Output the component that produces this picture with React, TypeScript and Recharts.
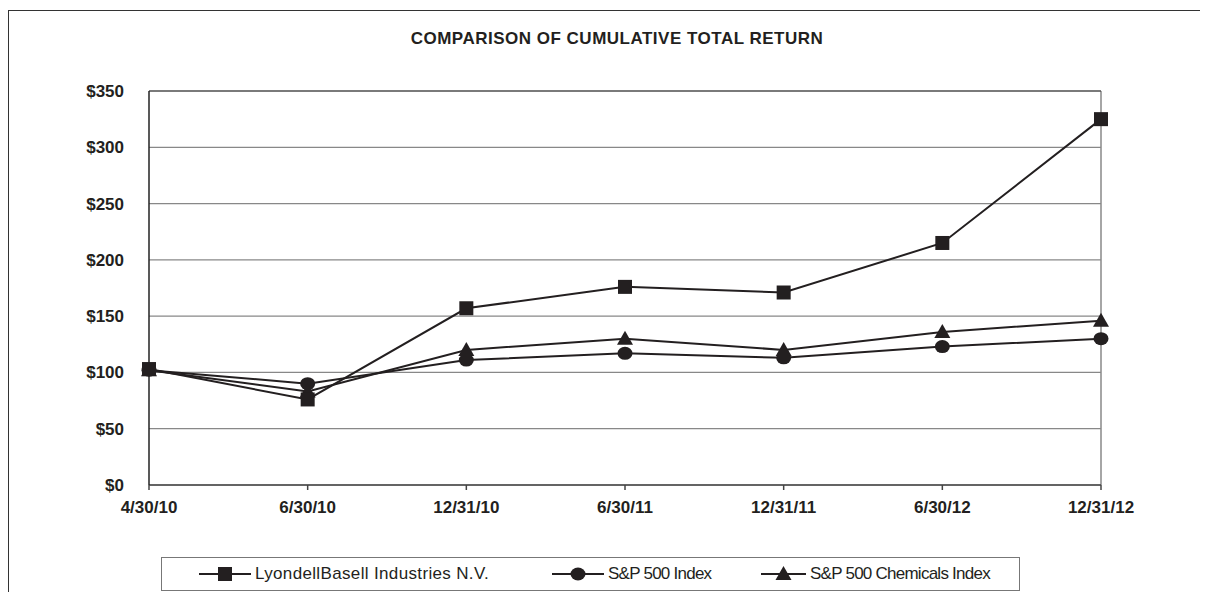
import React from "react";
import {
  LineChart,
  Line,
  XAxis,
  YAxis,
  CartesianGrid,
  Legend,
  ReferenceLine,
} from "recharts";

const dates = ["4/30/10", "6/30/10", "12/31/10", "6/30/11", "12/31/11", "6/30/12", "12/31/12"];
const lyondell = [103, 76, 157, 176, 171, 215, 325];
const sp500 = [102, 90, 111, 117, 113, 123, 130];
const chemicals = [102, 83, 120, 130, 120, 136, 146];
const yTicks = [0, 50, 100, 150, 200, 250, 300, 350];

const data = dates.map((d, i) => ({
  date: d,
  lyondell: lyondell[i],
  sp500: sp500[i],
  chemicals: chemicals[i],
}));

const INK = "#231f20";
const FONT = "'Liberation Sans', Arial, sans-serif";

const Square = ({ cx, cy }: { cx: number; cy: number }) => (
  <rect x={cx - 7} y={cy - 7} width={14} height={14} fill={INK} />
);
const Circle = ({ cx, cy }: { cx: number; cy: number }) => (
  <ellipse cx={cx} cy={cy} rx={7.5} ry={6.5} fill={INK} />
);
const Triangle = ({ cx, cy }: { cx: number; cy: number }) => (
  <path d={`M${cx},${cy - 8}L${cx + 8},${cy + 6}L${cx - 8},${cy + 6}Z`} fill={INK} />
);

// left offset inside the legend box, icon width, letter spacing
const legendItems = [
  { label: "LyondellBasell Industries N.V.", Marker: Square, left: 37, icon: 52, ls: 0.35 },
  { label: "S&P 500 Index", Marker: Circle, left: 390, icon: 52, ls: -0.75 },
  { label: "S&P 500 Chemicals Index", Marker: Triangle, left: 599, icon: 45, ls: -0.75 },
];

function LegendBox() {
  return (
    <div
      style={{
        position: "relative",
        boxSizing: "border-box",
        height: 34,
        border: "1.5px solid #777",
        fontFamily: FONT,
        fontSize: 17,
        color: INK,
      }}
    >
      {legendItems.map(({ label, Marker, left, icon, ls }) => (
        <div
          key={label}
          style={{
            position: "absolute",
            left,
            top: 6,
            display: "flex",
            alignItems: "center",
            whiteSpace: "nowrap",
          }}
        >
          <svg width={icon} height={18} style={{ marginRight: 4 }}>
            <line x1={0} y1={9} x2={icon} y2={9} stroke={INK} strokeWidth={2} />
            <Marker cx={icon / 2} cy={9} />
          </svg>
          <span style={{ letterSpacing: ls }}>{label}</span>
        </div>
      ))}
    </div>
  );
}

export default function App() {
  return (
    <div style={{ position: "relative", width: 1200, height: 584 }}>
      <div
        style={{
          position: "absolute",
          left: 0,
          top: 2,
          width: 1200,
          height: 590,
          borderLeft: "1.5px solid #333",
          borderTop: "1.5px solid #333",
        }}
      />
      <div
        style={{
          position: "absolute",
          left: 359,
          top: 21,
          width: 500,
          textAlign: "center",
          fontFamily: FONT,
          fontWeight: "bold",
          fontSize: 17,
          letterSpacing: 0.5,
          color: INK,
        }}
      >
        COMPARISON OF CUMULATIVE TOTAL RETURN
      </div>
      <LineChart
        width={1200}
        height={584}
        data={data}
        margin={{ top: 83, right: 107, left: 0, bottom: 23 }}
        style={{ position: "absolute", left: 0, top: 0 }}
      >
        <CartesianGrid vertical={false} stroke="#888" strokeWidth={1.2} />
        <ReferenceLine x={dates[dates.length - 1]} stroke="#888" strokeWidth={1.5} />
        <ReferenceLine y={yTicks[yTicks.length - 1]} stroke="#333" strokeWidth={1.2} />
        <XAxis
          dataKey="date"
          height={50}
          tickSize={5}
          tickMargin={11}
          axisLine={{ stroke: "#444", strokeWidth: 1.5 }}
          tickLine={{ stroke: "#444", strokeWidth: 1.5 }}
          tick={{ fill: INK, fontSize: 17, fontWeight: "bold", fontFamily: FONT }}
          interval={0}
        />
        <YAxis
          width={141}
          domain={[0, 350]}
          ticks={yTicks}
          tickSize={0}
          tickMargin={25}
          tickFormatter={(v: number) => `$${v}`}
          axisLine={{ stroke: "#222", strokeWidth: 1.5 }}
          tickLine={false}
          tick={{ fill: INK, fontSize: 17, fontWeight: "bold", fontFamily: FONT }}
        />
        <Legend
          verticalAlign="bottom"
          content={() => <LegendBox />}
          wrapperStyle={{ left: 153, top: 549, width: 859 }}
        />
        <Line
          dataKey="sp500"
          stroke={INK}
          strokeWidth={2}
          isAnimationActive={false}
          dot={(p: any) => <Circle key={`sp-${p.index}`} cx={p.cx} cy={p.cy} />}
        />
        <Line
          dataKey="chemicals"
          stroke={INK}
          strokeWidth={2}
          isAnimationActive={false}
          dot={(p: any) => <Triangle key={`ch-${p.index}`} cx={p.cx} cy={p.cy} />}
        />
        <Line
          dataKey="lyondell"
          stroke={INK}
          strokeWidth={2}
          isAnimationActive={false}
          dot={(p: any) => <Square key={`ly-${p.index}`} cx={p.cx} cy={p.cy} />}
        />
      </LineChart>
    </div>
  );
}
